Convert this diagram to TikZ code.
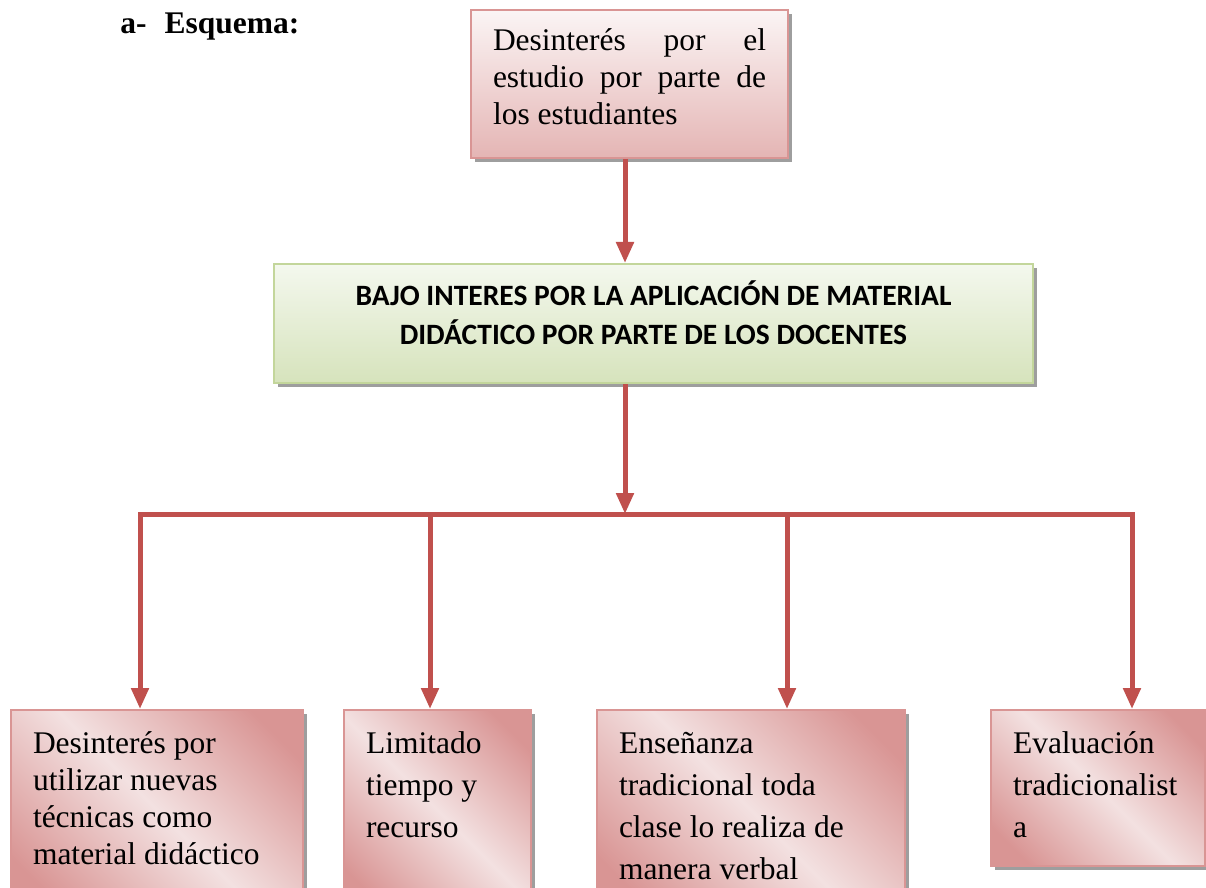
\documentclass[tikz,border=0pt]{standalone}
\usepackage{fontspec}
\setmainfont{Liberation Serif}
\newfontfamily\calibri{Carlito}
\usetikzlibrary{arrows.meta,shadows,positioning}
\definecolor{rojoF}{HTML}{C0504D}
\definecolor{rosaO}{HTML}{D99594}
\definecolor{rosaC}{HTML}{F3E1E1}
\definecolor{verdeO}{HTML}{D6E3BC}
\definecolor{verdeC}{HTML}{F4F8EE}
\definecolor{verdeB}{HTML}{C3D69B}
\pgfdeclarehorizontalshading{banda}{100bp}{color(0bp)=(rosaO); color(22bp)=(rosaO); color(50bp)=(rosaC); color(78bp)=(rosaO); color(100bp)=(rosaO)}
% texto de cada caja: alto, ancho, primera linea, texto
\newcommand{\bloque}[4]{\parbox[t][#1][t]{#2}{\rule{0pt}{#3}#4}}
\tikzset{
	caja/.style={draw=rosaO, line width=1pt, anchor=north west, inner xsep=11pt, inner ysep=0pt,
		drop shadow={shadow xshift=2pt, shadow yshift=-2pt, fill=black!38, opacity=1}},
	efecto/.style={caja, shading=banda, shading angle=45},
	causa/.style={caja, top color=rosaC!35!white, bottom color=rosaO!70!white},
	problema/.style={caja, draw=verdeB, top color=verdeC, bottom color=verdeO},
	linea/.style={rojoF, line width=2.5pt},
	flecha/.style={linea, ->}
}
\begin{document}
\begin{tikzpicture}[x=0.5pt,y=-0.5pt,>={Triangle[length=10.5pt,width=8.5pt]}]
	\clip[use as bounding box] (0,0) rectangle (1206,888);
	\fill[white] (0,0) rectangle (1206,888);
	\fontsize{15.75pt}{18.5pt}\selectfont
	\node[anchor=base west, inner sep=0pt] (titulo) at (120,34) {\textbf{a-\hspace{9pt}Esquema:}};
	% causa
	\node[causa] (causa) at (470,9) {\bloque{74pt}{136.5pt}{20.5pt}{%
		\makebox[\linewidth][s]{Desinterés por el}\\
		\makebox[\linewidth][s]{estudio por parte de}\\
		los estudiantes}};
	% problema
	\node[problema] (problema) at (273,263) {\bloque{59.5pt}{357.5pt}{20.5pt}{%
		\centering\calibri\bfseries\fontsize{14.75pt}{20pt}\selectfont
		BAJO INTERES POR LA APLICACIÓN DE MATERIAL\\
		DIDÁCTICO POR PARTE DE LOS DOCENTES}};
	% efectos
	\node[efecto] (efecto1) at (10,709) {\bloque{100pt}{124pt}{21.5pt}{%
		\baselineskip=18.5pt Desinterés por\\ utilizar nuevas\\ técnicas como\\ material didáctico}};
	\node[efecto] (efecto2) at (343,709) {\bloque{100pt}{71.5pt}{21.5pt}{%
		\baselineskip=21pt Limitado\\ tiempo y\\ recurso}};
	\node[efecto] (efecto3) at (596,709) {\bloque{100pt}{132pt}{21.5pt}{%
		\baselineskip=21pt Enseñanza\\ tradicional toda\\ clase lo realiza de\\ manera verbal}};
	\node[efecto] (efecto4) at (990,709) {\bloque{78pt}{85pt}{21.5pt}{%
		\baselineskip=21pt Evaluación\\ tradicionalist\\ a}};
	% conectores
	\coordinate (cruce) at (625,514);
	\coordinate (b1) at (140,514);
	\coordinate (b2) at (430,514);
	\coordinate (b3) at (787,514);
	\coordinate (b4) at (1132,514);
	\draw[flecha] (causa.south -| cruce) -- (problema.north -| cruce);
	\draw[flecha] (problema.south -| cruce) -- (cruce);
	\draw[linea, line cap=rect] (b1) -- (b4);
	\foreach \i in {1,2,3,4}{
		\draw[flecha] (b\i) -- (b\i |- efecto\i.north);%bajada
	}
\end{tikzpicture}
\end{document}
